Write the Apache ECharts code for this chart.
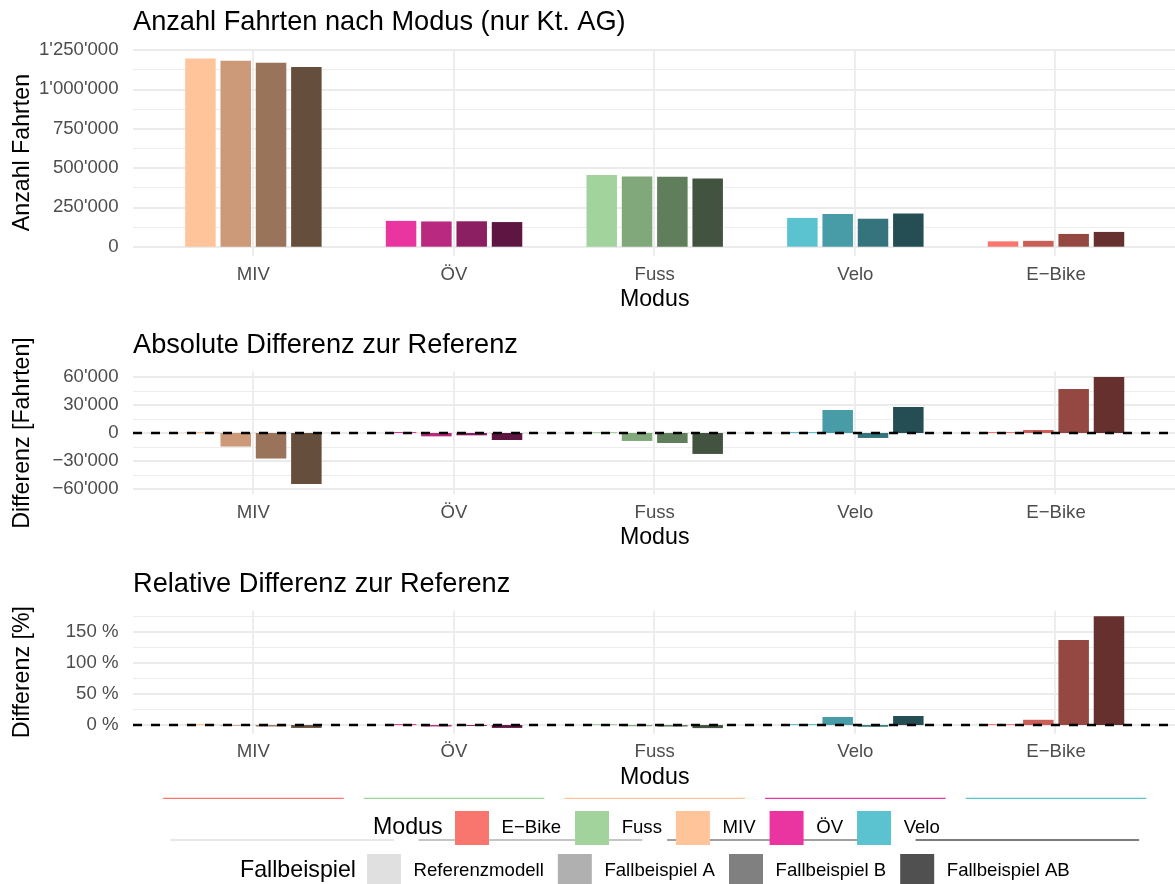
<!DOCTYPE html>
<html>
<head>
<meta charset="utf-8">
<script src="https://cdn.jsdelivr.net/npm/echarts@6/dist/echarts.min.js"></script>
<style>
  html, body { margin: 0; padding: 0; background: #fff; }
  #chart { width: 1175px; height: 884px; }
</style>
</head>
<body>
<div id="chart"></div>
<script>
// Categories
const modes = ['MIV', 'ÖV', 'Fuss', 'Velo', 'E−Bike'];
const scenarios = ['Referenzmodell', 'Fallbeispiel A', 'Fallbeispiel B', 'Fallbeispiel AB'];

// Number of trips per scenario (order of `modes`)
const tripsRef = [1196000, 164000, 455000, 183000, 34000];
const tripsA   = [1181500, 160400, 446500, 207600, 37200];
const tripsB   = [1168700, 161500, 444300, 177700, 81000];
const tripsAB  = [1141500, 156500, 432600, 210800, 93800];

// Absolute difference to the reference model [trips]
const absRef = [0, 0, 0, 0, 0];
const absA   = [-14500, -3600, -8500, 24600, 3200];
const absB   = [-27300, -2500, -10700, -5300, 47000];
const absAB  = [-54500, -7500, -22400, 27800, 59800];

// Relative difference to the reference model [%]
const relRef = [0, 0, 0, 0, 0];
const relA   = [-1.2, -2.2, -1.9, 13.0, 8.5];
const relB   = [-2.3, -1.5, -2.4, -2.7, 136.7];
const relAB  = [-4.6, -4.6, -4.9, 14.6, 175.0];

// Value-axis limits and tick steps of the three panels
const tripsLimits = [-59800, 1255800];
const tripsStep = 250000;
const absLimits = [-65780, 65780];
const absStep = 30000;
const relLimits = [-13.9, 184.0];
const relStep = 50;

// Legend entries
const legendModes = ['E−Bike', 'Fuss', 'MIV', 'ÖV', 'Velo'];
const legendModeColors = ['#F8766D', '#A3D39C', '#FFC499', '#EA35A1', '#5BC3D0'];
const scenarioGreys = ['#E0E0E0', '#B0B0B0', '#808080', '#505050'];

// Bar fill per mode, one shade per scenario
const barColors = {
  'MIV':    ['#FFC499', '#CC9A78', '#99745A', '#664E3C'],
  'ÖV':     ['#EA35A1', '#B8297F', '#8C1F61', '#5F1542'],
  'Fuss':   ['#A2D39C', '#81A87B', '#607E5C', '#42543F'],
  'Velo':   ['#5BC3D0', '#479CA7', '#35747C', '#244E53'],
  'E−Bike': ['#F8766D', '#C95F57', '#954841', '#65302D']
};

const FONT = 'Liberation Sans, Arial, Helvetica, sans-serif';
const W = 1175;
const PANEL_LEFT = 133;
const PANEL_RIGHT = 1176.4;
const PANEL_W = PANEL_RIGHT - PANEL_LEFT;
const unit5 = PANEL_W / 5.2;   // one category step (5 categories, 0.6 padding each side)
const unit4 = PANEL_W / 4.2;   // one step for the 4 scenario guides

function fmtThousands(v) {
  const s = Math.round(Math.abs(v)).toString().replace(/\B(?=(\d{3})+(?!\d))/g, "'");
  return (v < 0 ? '−' : '') + s;
}
function fmtPercent(v) {
  return (v < 0 ? '−' : '') + Math.abs(v) + ' %';
}

const panels = [
  { top: 49.1, height: 207, limits: tripsLimits, step: tripsStep, fmt: fmtThousands,
    yName: 'Anzahl Fahrten', values: [tripsRef, tripsA, tripsB, tripsAB], zeroLine: false },
  { top: 371.5, height: 123, limits: absLimits, step: absStep, fmt: fmtThousands,
    yName: 'Differenz [Fahrten]', values: [absRef, absA, absB, absAB], zeroLine: true },
  { top: 610.7, height: 123, limits: relLimits, step: relStep, fmt: fmtPercent,
    yName: 'Differenz [%]', values: [relRef, relA, relB, relAB], zeroLine: true }
];

const gridLine = { color: '#EBEBEB', width: 1.8 };
const minorGridLine = { color: '#EBEBEB', width: 0.9 };

const grids = [], xAxes = [], yAxes = [], series = [];

panels.forEach((p, pi) => {
  const outer = grids.length;
  // full panel: value gridlines, y labels, zero line
  grids.push({ left: PANEL_LEFT, right: W - PANEL_RIGHT, top: p.top, height: p.height });
  // inner band area holding the dodged bars
  grids.push({ left: PANEL_LEFT + 0.1 * unit5, right: W - PANEL_RIGHT + 0.1 * unit5, top: p.top, height: p.height });
  const inner = outer + 1;

  xAxes.push({
    gridIndex: outer, type: 'value', min: 0.4, max: 5.6, minInterval: 1, maxInterval: 1,
    axisLine: { show: false }, axisTick: { show: false }, axisLabel: { show: false },
    splitLine: { show: true, showMinLine: false, showMaxLine: false, lineStyle: gridLine }
  });
  xAxes.push({
    gridIndex: inner, type: 'category', data: modes,
    axisLine: { show: false }, axisTick: { show: false }, splitLine: { show: false },
    axisLabel: { interval: 0, margin: 9, color: '#4D4D4D', fontSize: 18.6, fontFamily: FONT },
    name: 'Modus', nameLocation: 'middle', nameGap: 32, nameMoveOverlap: false,
    nameTextStyle: { color: '#000', fontSize: 23.2, fontFamily: FONT }
  });

  yAxes.push({
    gridIndex: outer, type: 'value', min: p.limits[0], max: p.limits[1],
    minInterval: p.step, maxInterval: p.step,
    axisLine: { show: false }, axisTick: { show: false },
    axisLabel: { margin: 14.5, color: '#4D4D4D', fontSize: 18.6, fontFamily: FONT,
                 showMinLabel: false, showMaxLabel: false, formatter: p.fmt },
    splitLine: { show: true, showMinLine: false, showMaxLine: false, lineStyle: gridLine },
    minorTick: { show: false, splitNumber: 2 },
    minorSplitLine: { show: true, lineStyle: minorGridLine },
    name: p.yName, nameLocation: 'middle', nameGap: 99, nameMoveOverlap: false,
    nameTextStyle: { color: '#000', fontSize: 23.2, fontFamily: FONT }
  });
  yAxes.push({ gridIndex: inner, type: 'value', min: p.limits[0], max: p.limits[1], show: false });

  const innerX = xAxes.length - 1, innerY = yAxes.length - 1;
  const outerX = xAxes.length - 2, outerY = yAxes.length - 2;

  scenarios.forEach((sc, si) => {
    series.push({
      name: sc, type: 'bar', xAxisIndex: innerX, yAxisIndex: innerY,
      barWidth: 0.152 * unit5, barGap: '15.8%',
      barMinHeight: (p.zeroLine && si === 0) ? 1 : 0,
      silent: true,
      data: p.values[si].map((v, i) => ({ value: v, itemStyle: { color: barColors[modes[i]][si] } }))
    });
  });

  if (p.zeroLine) {
    series.push({
      type: 'line', xAxisIndex: outerX, yAxisIndex: outerY, silent: true, z: 5,
      symbol: 'none',
      data: [[0.4, 0], [5.6, 0]],
      lineStyle: { color: '#000', width: 2.4, type: [9, 9] }
    });
  }
});

// guide lines beneath the panels (one per mode, one per scenario)
function guideLine(params, api) {
  const c = api.coord([api.value(0), 0]);
  const w = api.size([1, 0])[0] * 0.9;
  return {
    type: 'line',
    shape: { x1: c[0] - w / 2, y1: c[1], x2: c[0] + w / 2, y2: c[1] },
    style: { stroke: api.visual('color'), lineWidth: 1.3 }
  };
}

const gModes = grids.length;
grids.push({ left: PANEL_LEFT + 0.1 * unit5, right: W - PANEL_RIGHT + 0.1 * unit5, top: 788.3, height: 20 });
xAxes.push({ gridIndex: gModes, type: 'category', data: legendModes, show: false });
yAxes.push({ gridIndex: gModes, type: 'value', min: -1, max: 1, show: false });
const modeX = xAxes.length - 1, modeY = yAxes.length - 1;
legendModes.forEach((m, i) => {
  series.push({
    name: m, type: 'custom', xAxisIndex: modeX, yAxisIndex: modeY, silent: true,
    itemStyle: { color: legendModeColors[i] },
    renderItem: guideLine, data: [[m, 0]]
  });
});

const gScen = grids.length;
grids.push({ left: PANEL_LEFT + 0.1 * unit4, right: W - PANEL_RIGHT + 0.1 * unit4, top: 830, height: 20 });
xAxes.push({ gridIndex: gScen, type: 'category', data: scenarios, show: false });
yAxes.push({ gridIndex: gScen, type: 'value', min: -1, max: 1, show: false });
const scenX = xAxes.length - 1, scenY = yAxes.length - 1;
scenarios.forEach((s, i) => {
  series.push({
    name: s, type: 'custom', xAxisIndex: scenX, yAxisIndex: scenY, silent: true,
    itemStyle: { color: scenarioGreys[i] },
    renderItem: guideLine, data: [[s, 0]]
  });
});

const titleStyle = { color: '#000', fontSize: 27.2, fontWeight: 'normal', fontFamily: FONT };
const legendTitleStyle = { color: '#000', fontSize: 23.2, fontWeight: 'normal', fontFamily: FONT };
const legendText = { color: '#000', fontSize: 18.6, fontFamily: FONT, padding: [0, 0, 0, 7.6] };

const option = {
  animation: false,
  backgroundColor: '#fff',
  title: [
    { text: 'Anzahl Fahrten nach Modus (nur Kt. AG)', left: PANEL_LEFT, top: 9.5, padding: 0, textStyle: titleStyle },
    { text: 'Absolute Differenz zur Referenz', left: PANEL_LEFT, top: 332, padding: 0, textStyle: titleStyle },
    { text: 'Relative Differenz zur Referenz', left: PANEL_LEFT, top: 571, padding: 0, textStyle: titleStyle },
    { text: 'Modus', left: 373, top: 816, padding: 0, textStyle: legendTitleStyle },
    { text: 'Fallbeispiel', left: 240, top: 859, padding: 0, textStyle: legendTitleStyle }
  ],
  legend: [
    {
      left: 455, top: 811, padding: 0, orient: 'horizontal', selectedMode: false,
      icon: 'rect', itemWidth: 34, itemHeight: 34, itemGap: 14, textStyle: legendText,
      data: legendModes.map((m, i) => ({ name: m, itemStyle: { color: legendModeColors[i], borderWidth: 0 } }))
    },
    {
      left: 367, top: 854, padding: 0, orient: 'horizontal', selectedMode: false,
      icon: 'rect', itemWidth: 34, itemHeight: 34, itemGap: 14, textStyle: legendText,
      data: scenarios.map((s, i) => ({ name: s, itemStyle: { color: scenarioGreys[i], borderWidth: 0 } }))
    }
  ],
  grid: grids,
  xAxis: xAxes,
  yAxis: yAxes,
  series: series
};

const chart = echarts.init(document.getElementById('chart'), null, { renderer: 'canvas' });
chart.setOption(option);
</script>
</body>
</html>
